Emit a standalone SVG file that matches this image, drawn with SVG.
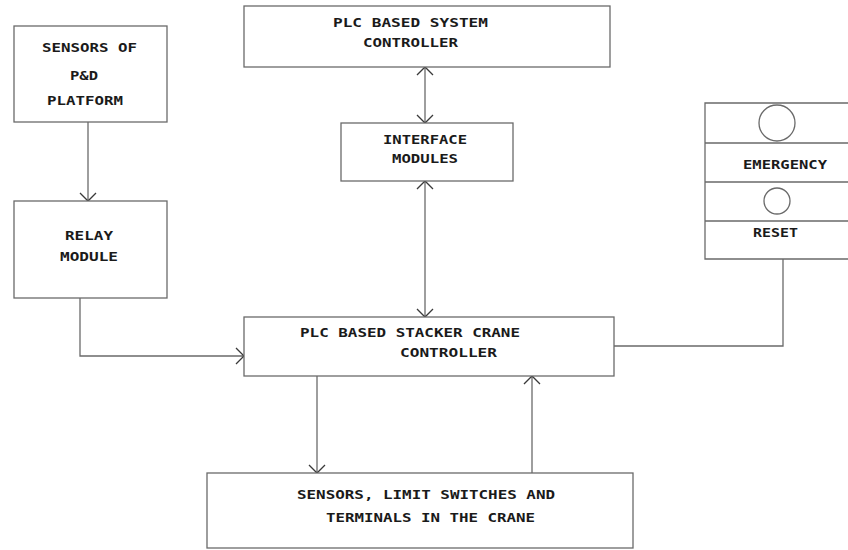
<svg xmlns="http://www.w3.org/2000/svg" width="848" height="550" viewBox="0 0 848 550">
<style>
.box{fill:#fff;stroke:#6a6a6a;stroke-width:1.3}
.ln{fill:none;stroke:#6a6a6a;stroke-width:1.3}
text{font-family:"DejaVu Sans Mono","Liberation Mono",monospace;font-size:13px;fill:#1a1a1a;font-weight:bold}
</style>
<defs>
<marker id="ah" viewBox="0 0 10 18" refX="9" refY="9" markerWidth="10" markerHeight="18" markerUnits="userSpaceOnUse" orient="auto-start-reverse">
<path d="M1,1 L9,9 L1,17" fill="none" stroke="#3a3a3a" stroke-width="1.3"/>
</marker>
</defs>
<rect width="848" height="550" fill="#fff"/>
<g id="connectors">
<path class="ln" d="M88,122 V201" marker-end="url(#ah)"/>
<path class="ln" d="M80,298 V356 H244" marker-end="url(#ah)"/>
<path class="ln" d="M425,67 V123" marker-start="url(#ah)" marker-end="url(#ah)"/>
<path class="ln" d="M425,181 V317" marker-start="url(#ah)" marker-end="url(#ah)"/>
<path class="ln" d="M317,376 V473" marker-end="url(#ah)"/>
<path class="ln" d="M532,473 V376" marker-end="url(#ah)"/>
<path class="ln" d="M614,346 H783 V259"/>
</g>
<g id="sensors-pd">
<rect class="box" x="14" y="26" width="153" height="96"/>
<text x="42" y="52" textLength="95" lengthAdjust="spacingAndGlyphs">SENSORS OF</text>
<text x="70" y="80" textLength="28" lengthAdjust="spacingAndGlyphs">P&amp;D</text>
<text x="47" y="105" textLength="76" lengthAdjust="spacingAndGlyphs">PLATFORM</text>
</g>
<g id="relay">
<rect class="box" x="14" y="201" width="153" height="97"/>
<text x="65" y="240" textLength="48" lengthAdjust="spacingAndGlyphs">RELAY</text>
<text x="60" y="261" textLength="58" lengthAdjust="spacingAndGlyphs">MODULE</text>
</g>
<g id="system-controller">
<rect class="box" x="244" y="6" width="366" height="61"/>
<text x="333" y="27" textLength="155" lengthAdjust="spacingAndGlyphs">PLC BASED SYSTEM</text>
<text x="363" y="47" textLength="95" lengthAdjust="spacingAndGlyphs">CONTROLLER</text>
</g>
<g id="interface">
<rect class="box" x="341" y="123" width="172" height="58"/>
<text x="383" y="144" textLength="84" lengthAdjust="spacingAndGlyphs">INTERFACE</text>
<text x="392" y="163" textLength="66" lengthAdjust="spacingAndGlyphs">MODULES</text>
</g>
<g id="emergency-panel">
<path class="ln" d="M852,103 H705 V259 H852 M705,143 H852 M705,182 H852 M705,221 H852"/>
<circle class="ln" cx="777" cy="123" r="18"/>
<circle class="ln" cx="777" cy="201" r="13"/>
<text x="743" y="169" textLength="84" lengthAdjust="spacingAndGlyphs">EMERGENCY</text>
<text x="753" y="237" textLength="45" lengthAdjust="spacingAndGlyphs">RESET</text>
</g>
<g id="stacker-crane-controller">
<rect class="box" x="244" y="317" width="370" height="59"/>
<text x="300" y="337" textLength="220" lengthAdjust="spacingAndGlyphs">PLC BASED STACKER CRANE</text>
<text x="400" y="357" textLength="97" lengthAdjust="spacingAndGlyphs">CONTROLLER</text>
</g>
<g id="crane-sensors">
<rect class="box" x="207" y="473" width="426" height="75"/>
<text x="297" y="499" textLength="258" lengthAdjust="spacingAndGlyphs">SENSORS, LIMIT SWITCHES AND</text>
<text x="326" y="522" textLength="209" lengthAdjust="spacingAndGlyphs">TERMINALS IN THE CRANE</text>
</g>
</svg>
